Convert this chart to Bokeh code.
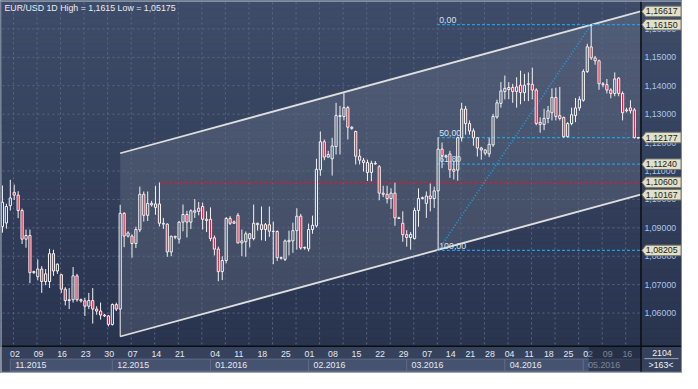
from bokeh.plotting import figure
from bokeh.models import Range1d, ColumnDataSource
from bokeh.embed import file_html
from bokeh.resources import INLINE
from bokeh.core.properties import value

# ---------------- data ----------------
opens = [1.0905, 1.0917, 1.0978, 1.1025, 1.1015, 1.0961, 1.0860, 1.0873, 1.0742, 1.0728,
         1.0755, 1.0711, 1.0711, 1.0809, 1.0748, 1.0735, 1.0684, 1.0644, 1.0647, 1.0731,
         1.0647, 1.0643, 1.0624, 1.0644, 1.0614, 1.0607, 1.0593, 1.0590, 1.0560, 1.0630,
         1.0614, 1.0951, 1.0871, 1.0871, 1.0845, 1.0893, 1.1018, 1.0944, 1.0986, 1.0972,
         1.0984, 1.0916, 1.0913, 1.0815, 1.0870, 1.0860, 1.0920, 1.0947, 1.0920, 1.0960,
         1.0958, 1.0975, 1.0930, 1.0930, 1.0865, 1.0825, 1.0746, 1.0785, 1.0933, 1.0916,
         1.0944, 1.0847, 1.0851, 1.0862, 1.0862, 1.0916, 1.0911, 1.0911, 1.0911, 1.0888,
         1.0887, 1.0795, 1.0789, 1.0851, 1.0854, 1.0890, 1.0941, 1.0829, 1.0826, 1.0894,
         1.0907, 1.1104, 1.1203, 1.1149, 1.1143, 1.1186, 1.1295, 1.1292, 1.1323, 1.1254,
         1.1239, 1.1152, 1.1138, 1.1130, 1.1095, 1.1127, 1.1115, 1.1018, 1.1018, 1.1003,
         1.1022, 1.0935, 1.0916, 1.0876, 1.0866, 1.0862, 1.0961, 1.1003, 1.0986, 1.1012,
         1.1003, 1.1030, 1.1177, 1.1154, 1.1160, 1.1106, 1.1103, 1.1217, 1.1318, 1.1267,
         1.1241, 1.1217, 1.1181, 1.1163, 1.1160, 1.1192, 1.1290, 1.1338, 1.1380, 1.1387,
         1.1394, 1.1380, 1.1402, 1.1376, 1.1405, 1.1405, 1.1385, 1.1271, 1.1264, 1.1285,
         1.1305, 1.1359, 1.1295, 1.1288, 1.1221, 1.1267, 1.1295, 1.1322, 1.1349, 1.1450,
         1.1537, 1.1498, 1.1488, 1.1407, 1.1404, 1.1385, 1.1373, 1.1427, 1.1373, 1.1315,
         1.1322, 1.1315, 1.1218]
highs = [1.1049, 1.0985, 1.1069, 1.1052, 1.1029, 1.0968, 1.0894, 1.0894, 1.0749, 1.0789,
         1.0765, 1.0755, 1.0826, 1.0823, 1.0775, 1.0738, 1.0691, 1.0688, 1.0762, 1.0738,
         1.0651, 1.0654, 1.0671, 1.0688, 1.0624, 1.0637, 1.0597, 1.0593, 1.0634, 1.0637,
         1.0981, 1.0955, 1.0888, 1.0877, 1.0904, 1.1045, 1.1028, 1.1028, 1.0995, 1.1048,
         1.1060, 1.0935, 1.0916, 1.0873, 1.0872, 1.0924, 1.0982, 1.0960, 1.0965, 1.1001,
         1.0991, 1.0989, 1.0958, 1.0972, 1.0873, 1.0834, 1.0800, 1.0938, 1.0941, 1.0926,
         1.0952, 1.0894, 1.0887, 1.0881, 1.0982, 1.0918, 1.0975, 1.0917, 1.0975, 1.0922,
         1.0891, 1.0799, 1.0859, 1.0890, 1.0918, 1.0969, 1.0949, 1.0834, 1.0915, 1.0943,
         1.1143, 1.1239, 1.1211, 1.1171, 1.1217, 1.1340, 1.1329, 1.1374, 1.1329, 1.1258,
         1.1242, 1.1177, 1.1146, 1.1140, 1.1136, 1.1135, 1.1121, 1.1048, 1.1048, 1.1039,
         1.1059, 1.0939, 1.0958, 1.0892, 1.0885, 1.0971, 1.1039, 1.1010, 1.1028, 1.1056,
         1.1045, 1.1218, 1.1200, 1.1158, 1.1171, 1.1137, 1.1221, 1.1340, 1.1329, 1.1278,
         1.1250, 1.1219, 1.1185, 1.1177, 1.1217, 1.1301, 1.1351, 1.1413, 1.1436, 1.1413,
         1.1407, 1.1430, 1.1453, 1.1442, 1.1447, 1.1464, 1.1391, 1.1289, 1.1319, 1.1329,
         1.1391, 1.1393, 1.1396, 1.1292, 1.1272, 1.1323, 1.1357, 1.1363, 1.1458, 1.1548,
         1.1615, 1.1505, 1.1492, 1.1413, 1.1424, 1.1391, 1.1447, 1.1430, 1.1380, 1.1323,
         1.1349, 1.1322, 1.1220]
lows = [1.0883, 1.0897, 1.0961, 1.0998, 1.0934, 1.0843, 1.0830, 1.0705, 1.0738, 1.0715,
        1.0671, 1.0698, 1.0688, 1.0731, 1.0738, 1.0671, 1.0627, 1.0614, 1.0637, 1.0640,
        1.0637, 1.0590, 1.0614, 1.0563, 1.0594, 1.0577, 1.0586, 1.0553, 1.0556, 1.0607,
        1.05175, 1.0832, 1.0866, 1.0795, 1.0829, 1.0885, 1.0922, 1.0924, 1.0975, 1.0946,
        1.0905, 1.0896, 1.0798, 1.0800, 1.0860, 1.0845, 1.0888, 1.0866, 1.0896, 1.0935,
        1.0944, 1.0894, 1.0885, 1.0853, 1.0803, 1.0712, 1.0716, 1.0775, 1.0910, 1.0915,
        1.0845, 1.0800, 1.0798, 1.0831, 1.0856, 1.0890, 1.0856, 1.0854, 1.0868, 1.0772,
        1.0783, 1.0788, 1.0783, 1.0803, 1.0812, 1.0823, 1.0823, 1.0823, 1.0817, 1.0879,
        1.0901, 1.1083, 1.1138, 1.1147, 1.1084, 1.1158, 1.1158, 1.1278, 1.1211, 1.1245,
        1.1123, 1.1123, 1.1098, 1.1065, 1.1064, 1.1122, 1.0997, 1.1008, 1.0986, 1.0967,
        1.0907, 1.0931, 1.0851, 1.0834, 1.0823, 1.0859, 1.0904, 1.1000, 1.0935, 1.0958,
        1.0970, 1.08205, 1.1110, 1.1146, 1.1076, 1.1070, 1.1066, 1.1204, 1.1228, 1.1228,
        1.1189, 1.1151, 1.1140, 1.1155, 1.1149, 1.1185, 1.1284, 1.1323, 1.1352, 1.1353,
        1.1340, 1.1323, 1.1335, 1.1346, 1.1346, 1.1352, 1.1261, 1.1235, 1.1244, 1.1268,
        1.1278, 1.1278, 1.1278, 1.1217, 1.1218, 1.1261, 1.1272, 1.1312, 1.1344, 1.1445,
        1.1491, 1.1474, 1.1386, 1.1395, 1.1373, 1.1356, 1.1363, 1.1363, 1.1278, 1.1306,
        1.1302, 1.1214, 1.1214]
closes = [1.0990, 1.0975, 1.1005, 1.1015, 1.0961, 1.0860, 1.0873, 1.0742, 1.0746, 1.0755,
          1.0711, 1.0738, 1.0809, 1.0748, 1.0772, 1.0684, 1.0644, 1.0647, 1.0731, 1.0647,
          1.0643, 1.0624, 1.0644, 1.0614, 1.0607, 1.0593, 1.0590, 1.0560, 1.0630, 1.0614,
          1.0951, 1.0871, 1.0882, 1.0845, 1.0894, 1.1018, 1.0944, 1.0986, 1.0981, 1.0984,
          1.0916, 1.0913, 1.0815, 1.0870, 1.0867, 1.0920, 1.0947, 1.0920, 1.0960, 1.0955,
          1.0969, 1.0930, 1.0926, 1.0862, 1.0825, 1.0746, 1.0785, 1.0933, 1.0916, 1.0921,
          1.0847, 1.0854, 1.0879, 1.0879, 1.0916, 1.0911, 1.0894, 1.0894, 1.0888, 1.0887,
          1.0795, 1.0793, 1.0854, 1.0856, 1.0890, 1.0941, 1.0829, 1.0831, 1.0894, 1.0909,
          1.1106, 1.1203, 1.1149, 1.1158, 1.1188, 1.1295, 1.1292, 1.1323, 1.1254, 1.1250,
          1.1152, 1.1138, 1.1130, 1.1095, 1.1127, 1.1125, 1.1022, 1.1022, 1.1003, 1.1022,
          1.0935, 1.0933, 1.0876, 1.0866, 1.0877, 1.0961, 1.1003, 1.1006, 1.1012, 1.1003,
          1.1030, 1.1177, 1.1154, 1.1150, 1.1104, 1.1099, 1.1217, 1.1318, 1.1267, 1.1241,
          1.1217, 1.1181, 1.1174, 1.1174, 1.1194, 1.1292, 1.1340, 1.1382, 1.1391, 1.1394,
          1.1380, 1.1396, 1.1376, 1.1402, 1.1407, 1.1385, 1.1267, 1.1264, 1.1285, 1.1312,
          1.1359, 1.1292, 1.1285, 1.1221, 1.1267, 1.1298, 1.1322, 1.1352, 1.1450, 1.1537,
          1.1498, 1.1488, 1.1407, 1.1404, 1.1385, 1.1373, 1.1424, 1.1373, 1.1305, 1.1312,
          1.1312, 1.1218, 1.1216]
bar_index = list(range(len(opens)))

day_tick_idx = [3, 9, 15, 21, 27, 33, 39, 45, 54, 60, 66, 72, 78, 84, 90, 96, 102, 108,
                114, 119, 124, 129, 134, 139, 144, 149, 154, 159]
day_tick_labels = ["02", "09", "16", "23", "30", "07", "14", "21", "04", "11", "18", "25",
                   "01", "08", "15", "22", "29", "07", "14", "21", "28", "04", "11", "18",
                   "25", "02", "09", "16"]
month_labels = ["11.2015", "12.2015", "01.2016", "02.2016", "03.2016", "04.2016", "05.2016"]
month_start_idx = [2, 28, 53, 78, 103, 128, 148]
price_ticks = [1.06, 1.07, 1.08, 1.09, 1.10, 1.11, 1.12, 1.13, 1.14, 1.15, 1.16]

channel_idx = [30, 162.56]
channel_upper = [1.11625, 1.16617]
channel_lower = [1.05175, 1.10167]

resistance_level = 1.1060
resistance_start_idx = 40

fib_start_idx = 111
fib_end_idx = 150
fib_low = 1.08205
fib_high = 1.16150
fib_ratios = [0.0, 50.0, 61.8, 100.0]
fib_labels = ["0,00", "50,00", "61,80", "100,00"]

badge_values = [1.16617, 1.16150, 1.12177, 1.11240, 1.10600, 1.10167, 1.08205]

title_text = "EUR/USD 1D High = 1,1615 Low = 1,05175"
info_top = "2104"
info_bottom = ">163<"

# ---------------- layout helpers (reference pixel -> data) ----------------
W, H = 682, 373
REF_W, REF_H = 698, 389
BAR_PX = 4.017
X0_PX = 2.0
PRICE_PX = 2963.0
Y0_PX = 59.3
P0 = 1.15


def ix(px):
    return (px - X0_PX) / BAR_PX


def pr(py):
    return P0 - (py - Y0_PX) / PRICE_PX


FONT = value("Liberation Sans")
FS = "8.8px"

p = figure(width=W, height=H, x_range=Range1d(ix(0), ix(REF_W)),
           y_range=Range1d(pr(REF_H), pr(0)), toolbar_location=None,
           output_backend="svg", min_border=0, title=None,
           x_axis_location=None, y_axis_location=None)
p.grid.visible = False
p.outline_line_color = None
p.background_fill_color = "#2b3652"
p.border_fill_color = "#2b3652"

# background gradient (chart + price scale)
n = 40
top_rgb = (62, 76, 105)
bot_rgb = (41, 52, 79)
g_top, g_bot, g_col = [], [], []
for k in range(n):
    t = k / (n - 1)
    c = tuple(int(round(a + (b - a) * t)) for a, b in zip(top_rgb, bot_rgb))
    g_col.append("#%02x%02x%02x" % c)
    g_top.append(pr(361 * k / n))
    g_bot.append(pr(361 * (k + 1) / n))
p.quad(left=ix(0), right=ix(REF_W), top=g_top, bottom=g_bot,
       fill_color=g_col, line_color=g_col, line_width=1)

# channel fill
p.patch(x=[channel_idx[0], channel_idx[1], channel_idx[1], channel_idx[0]],
        y=[channel_upper[0], channel_upper[1], channel_lower[1], channel_lower[0]],
        fill_color="white", fill_alpha=0.10, line_color=None)

# grid
grid_idx = [2.8 + 6 * k for k in range(27)]
p.segment(x0=grid_idx, x1=grid_idx, y0=pr(2), y1=pr(360), line_color="#5b6984",
          line_dash="2 3", line_width=1)
hp = [t for t in price_ticks]
p.segment(x0=ix(2), x1=ix(655), y0=hp, y1=hp, line_color="#5b6984",
          line_dash="2 3", line_width=1)

# channel lines
p.line(x=channel_idx, y=channel_upper, line_color="#dedede", line_width=1.8)
p.line(x=channel_idx, y=channel_lower, line_color="#dedede", line_width=1.8)

# resistance line
p.segment(x0=[resistance_start_idx], x1=[ix(656.5)], y0=[resistance_level],
          y1=[resistance_level], line_color="#e3182c", line_dash="3 2", line_width=1.2)

# fibonacci
fib_prices = [fib_high - r / 100.0 * (fib_high - fib_low) for r in fib_ratios]
p.segment(x0=[ix(446.7)] * len(fib_prices), x1=[ix(656.5)] * len(fib_prices),
          y0=fib_prices, y1=fib_prices, line_color="#1f9fe6", line_dash="3 2",
          line_width=1.2)
p.line(x=[fib_start_idx, fib_end_idx], y=[fib_low, fib_high], line_color="#1f9fe6",
       line_dash="1 2", line_width=1.6)

# candles
btop = [max(o, c) for o, c in zip(opens, closes)]
bbot = [min(o, c) for o, c in zip(opens, closes)]
p.segment(x0=bar_index, x1=bar_index, y0=highs, y1=btop, line_color="#f2f2f2", line_width=1)
p.segment(x0=bar_index, x1=bar_index, y0=bbot, y1=lows, line_color="#f2f2f2", line_width=1)
up = [i for i in bar_index if closes[i] >= opens[i]]
dn = [i for i in bar_index if closes[i] < opens[i]]
p.vbar(x=up, width=0.55, top=[btop[i] for i in up], bottom=[bbot[i] for i in up],
       fill_alpha=0, line_color="#f4f4f4", line_width=1)
p.vbar(x=dn, width=0.55, top=[btop[i] for i in dn], bottom=[bbot[i] for i in dn],
       fill_color="#e31b3d", line_color="#f4f4f4", line_width=1)

# fib labels
off = 1.8 / PRICE_PX
p.text(x=[ix(449)] * len(fib_prices), y=[v + off for v in fib_prices], text=fib_labels,
       text_font=FONT, text_font_size=FS, text_color="#d4e2f0",
       text_align="left", text_baseline="bottom")

# title
p.text(x=[ix(4)], y=[pr(2.5)], text=[title_text], text_font=FONT, text_font_size=FS,
       text_color="#e8edf5", text_align="left", text_baseline="top")

# ---------------- bottom time scale ----------------
p.quad(left=ix(0), right=ix(REF_W), top=pr(360.5), bottom=pr(REF_H),
       fill_color="#36425b", line_color=None)
m_left = month_start_idx
m_right = month_start_idx[1:] + [ix(655)]
p.quad(left=m_left, right=m_right, top=pr(374), bottom=pr(386.5),
       fill_color="#465370", line_color="#5e6a85", line_width=1)
p.text(x=[i + 5 / BAR_PX for i in m_left], y=[pr(380)] * len(m_left), text=month_labels,
       text_font=FONT, text_font_size=FS, text_color="#e4e9f1",
       text_align="left", text_baseline="middle")
p.text(x=[i + 0.2 for i in day_tick_idx], y=[pr(368.3)] * len(day_tick_idx),
       text=day_tick_labels, text_font=FONT, text_font_size=FS, text_color="#e4e9f1",
       text_align="center", text_baseline="middle")
# unfinished-period shading
p.quad(left=ix(602), right=ix(655), top=pr(361), bottom=pr(386.5),
       fill_color="#131b30", fill_alpha=0.5, line_color=None)

# info box
p.quad(left=ix(656), right=ix(REF_W), top=pr(360.5), bottom=pr(REF_H),
       fill_color="#36425b", line_color=None)
p.text(x=[ix(677)], y=[pr(368)], text=[info_top], text_font=FONT, text_font_size=FS,
       text_color="#eef2f7", text_align="center", text_baseline="middle")
p.segment(x0=[ix(659)], x1=[ix(694)], y0=[pr(373.5)], y1=[pr(373.5)],
          line_color="#9aa4b6", line_width=1)
p.text(x=[ix(676)], y=[pr(380)], text=[info_bottom], text_font=FONT, text_font_size=FS,
       text_color="#eef2f7", text_align="center", text_baseline="middle")

# separators
p.segment(x0=[ix(0)], x1=[ix(REF_W)], y0=[pr(360.5)], y1=[pr(360.5)],
          line_color="#0b0d14", line_width=1.5)
p.segment(x0=[ix(655.5)], x1=[ix(655.5)], y0=[pr(0)], y1=[pr(REF_H)],
          line_color="#0b0d14", line_width=1.5)

# ---------------- price scale ----------------
p.text(x=[ix(659)] * len(price_ticks), y=price_ticks,
       text=[("%.5f" % t).replace(".", ",") for t in price_ticks],
       text_font=FONT, text_font_size=FS, text_color="#a9c6ec",
       text_align="left", text_baseline="middle")

bh = 5.5 / PRICE_PX
xt, xn, xr = ix(656.5), ix(660.5), ix(696.5)
p.patches(xs=[[xt, xn, xr, xr, xn] for _ in badge_values],
          ys=[[v, v + bh, v + bh, v - bh, v - bh] for v in badge_values],
          fill_color="#e3e0c8", line_color="#77766a", line_width=1)
p.text(x=[ix(660.5)] * len(badge_values), y=badge_values,
       text=[("%.5f" % v).replace(".", ",") for v in badge_values],
       text_font=FONT, text_font_size=FS, text_color="#1d1d1d",
       text_align="left", text_baseline="middle")

# outer frame
p.segment(x0=[ix(0.5), ix(0.5), ix(0), ix(697.5)], x1=[ix(REF_W), ix(REF_W), ix(0.5), ix(697.5)],
          y0=[pr(0.5), pr(388), pr(0), pr(0)], y1=[pr(0.5), pr(388), pr(REF_H), pr(REF_H)],
          line_color="#9aa4b6", line_width=1.5)

open("out.html", "w").write(file_html(p, INLINE))
